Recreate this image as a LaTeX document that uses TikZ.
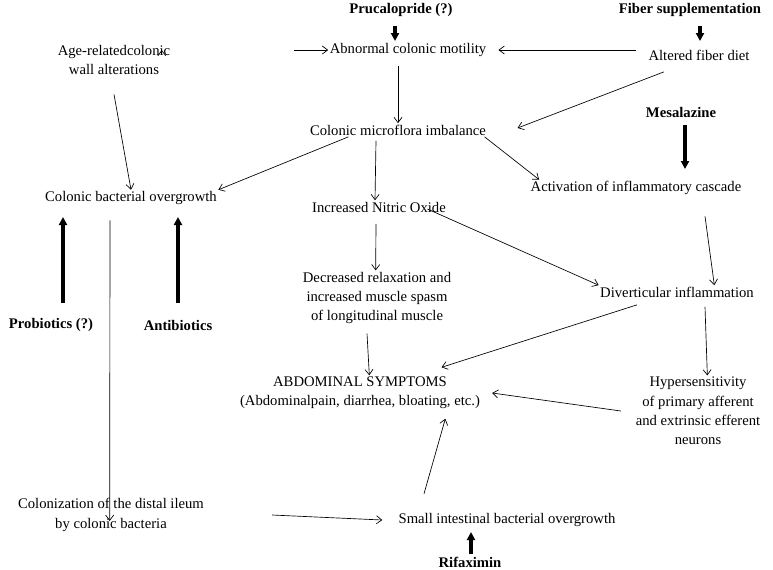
\documentclass[tikz,border=0pt]{standalone}
\usepackage{fontspec}
\setmainfont{Liberation Serif}
\usetikzlibrary{arrows.meta}
\begin{document}
\begin{tikzpicture}[x=0.75pt,y=-0.75pt,
  every node/.style={font=\fontsize{11}{14.5}\selectfont,align=center,inner sep=1pt},
  lbl/.style={font=\fontsize{11}{14.5}\selectfont\bfseries},
  ar/.style={-{Straight Barb[length=4pt,width=6pt]},line width=0.5pt},
  thick/.style={-{Triangle[length=6pt,width=6pt]},line width=2.6pt}]
\useasboundingbox (0,0) rectangle (773,569);
\node (age) at (114,60) {Age-relatedcolonic\\wall alterations};
\node (abn) at (408,50) {Abnormal colonic motility};
\node (fib) at (699,55) {Altered fiber diet};
\node[lbl] (pru) at (401,10) {Prucalopride (?)};
\node[lbl] (fsu) at (690,10) {Fiber supplementation};
\node (mic) at (398,130) {Colonic microflora imbalance};
\node[lbl] (mes) at (681,112) {Mesalazine};
\node (act) at (636,188) {Activation of inflammatory cascade};
\node (cbo) at (131,198) {Colonic bacterial overgrowth};
\node (no) at (379,207) {Increased Nitric Oxide};
\node (dec) at (377,298) {Decreased relaxation and\\increased muscle spasm\\ of longitudinal muscle};
\node (div) at (677,292) {Diverticular inflammation};
\node[lbl] (pro) at (51,325) {Probiotics (?)};
\node[lbl] (ant) at (178,325) {Antibiotics};
\node (abd) at (360,393) {ABDOMINAL SYMPTOMS\\(Abdominalpain, diarrhea, bloating, etc.)};
\node (hyp) at (698,411) {Hypersensitivity\\of primary afferent\\and extrinsic efferent\\neurons};
\node (col) at (111,515) {Colonization of the distal ileum\\by colonic bacteria};
\node (sibo) at (507,520) {Small intestinal bacterial overgrowth};
\node[lbl] (rif) at (470,562) {Rifaximin};
\coordinate (p1) at (395,26); \coordinate (p2) at (395,41);
\coordinate (f1) at (700,26); \coordinate (f2) at (700,41);
\coordinate (m1) at (685,125); \coordinate (m2) at (685,169);
\coordinate (b1) at (63,303); \coordinate (b2) at (63,217);
\coordinate (a1) at (178,303); \coordinate (a2) at (178,217);
\coordinate (r1) at (471,554); \coordinate (r2) at (471,532);
\draw[thick] (p1) -- (p2);
\draw[thick] (f1) -- (f2);
\draw[thick] (m1) -- (m2);
\draw[thick] (b1) -- (b2);
\draw[thick] (a1) -- (a2);
\draw[thick] (r1) -- (r2);
\draw[ar] (age.east|-abn) ++(-10,0) coordinate (x1);
\draw[ar] ([xshift=-20pt]abn.west) ++(-8,0) -- (abn.west);
\draw[ar] ([xshift=-8pt]fib.west|-abn) ++(0,0) -- ([xshift=8pt]abn.east);
\draw[ar] (abn.south) ++(-10,8) -- ([xshift=0pt,yshift=0pt]mic.north -| 398,110);
\draw[ar] ([shift={(-35,10)}]fib.south) -- ([shift={(30,-2)}]mic.east);
\draw[ar] ([shift={(40,0)}]mic.south west) -- (cbo.north east);
\draw[ar] (age.south) ++(0,18) -- (cbo.north);
\draw[ar] (mic.south) ++(-22,4) -- ([xshift=-3pt]no.north);
\draw[ar] ([shift={(-3,0)}]mic.south east) -- ([shift={(10,0)}]act.north west);
\draw[ar] (act.south) ++(69,20) -- ([xshift=28pt]div.north);
\draw[ar] ([shift={(-20,2)}]no.east) -- (div.north west);
\draw[ar] (no.south) ++(-3,10) -- ([xshift=-1pt]dec.north);
\draw[ar] (dec.south) ++(-10,8) -- ([xshift=7pt]abd.north);
\draw[ar] ([shift={(-40,6)}]div.south) -- ([shift={(-40,-8)}]abd.north east);
\draw[ar] (div.south) ++(28,8) -- ([xshift=7pt]hyp.north);
\draw[ar] ([xshift=-10pt]hyp.west) -- ([xshift=8pt]abd.east);
\draw[ar] (cbo.south) ++(-21,14) -- ([xshift=-1pt,yshift=-18pt]col.north);
\draw[ar] ([xshift=50pt]col.east) ++(0,0) -- ([xshift=-11pt]sibo.west);
\draw[ar] (sibo.north) ++(-83,-18) -- ([xshift=64pt,yshift=-6pt]abd.south);
\end{tikzpicture}
\end{document}
